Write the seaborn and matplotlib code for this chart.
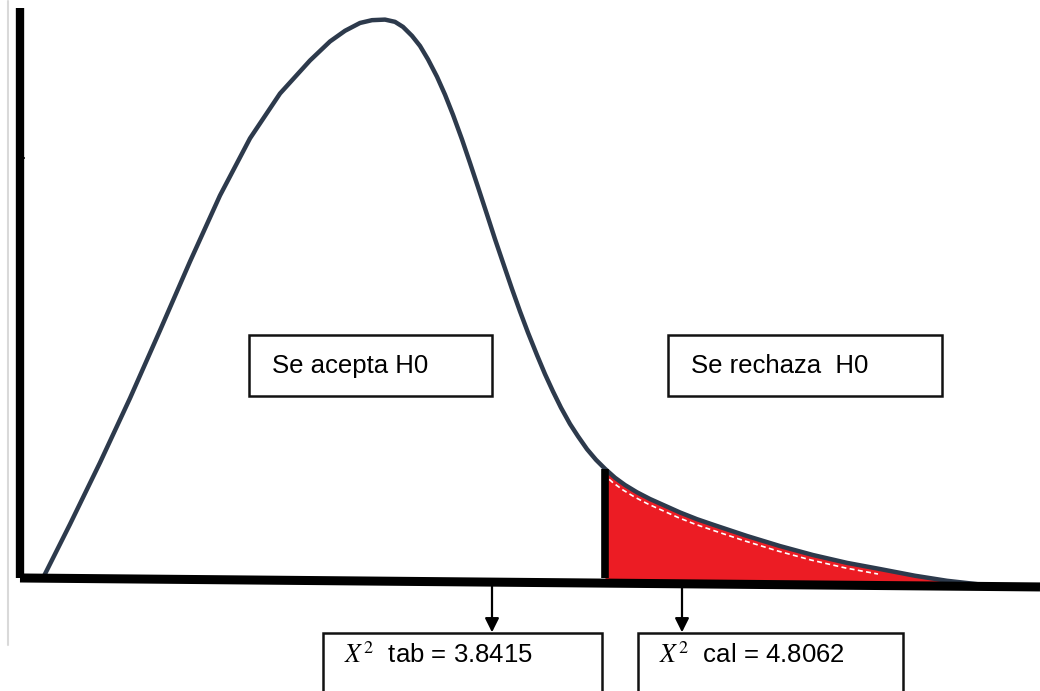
import matplotlib
matplotlib.use("Agg")
import matplotlib.pyplot as plt
import matplotlib.transforms as mtransforms
from matplotlib.patches import Rectangle
import seaborn as sns
import pandas as pd
import numpy as np

# ---- data (x: statistic scale, y: density scale) ----
curve_x = [0.00, 0.27, 0.57, 0.87, 1.17, 1.47, 1.77, 2.07, 2.37, 2.67, 2.87, 3.02,
           3.17, 3.29, 3.42, 3.52, 3.60, 3.69, 3.77, 3.85, 3.94, 4.02, 4.10, 4.19,
           4.27, 4.35, 4.44, 4.52, 4.60, 4.69, 4.77, 4.85, 4.94, 5.02, 5.10, 5.18,
           5.27, 5.35, 5.44, 5.53, 5.62, 5.72, 5.82, 5.94, 6.07, 6.22, 6.37, 6.54,
           6.72, 7.04, 7.37, 7.70, 8.04, 8.37, 8.72, 9.04, 9.44]
curve_y = [0.000, 0.096, 0.206, 0.321, 0.442, 0.565, 0.683, 0.785, 0.865, 0.924, 0.958, 0.977,
           0.991, 0.996, 0.997, 0.993, 0.984, 0.968, 0.950, 0.926, 0.895, 0.863, 0.827, 0.783,
           0.741, 0.698, 0.649, 0.605, 0.563, 0.516, 0.476, 0.438, 0.398, 0.364, 0.333, 0.304,
           0.275, 0.253, 0.230, 0.211, 0.195, 0.179, 0.166, 0.153, 0.141, 0.129, 0.117, 0.105,
           0.094, 0.075, 0.057, 0.041, 0.027, 0.016, 0.004, -0.005, -0.013]
critical_x = 5.62
axis_x = [-0.23, 9.97]
axis_y = [0.000, -0.016]
yaxis_top = 1.018
ytick_y = 0.75
tab_arrow_x = 4.49
cal_arrow_x = 6.39
labels_top = ["Se acepta H0", "Se rechaza  H0"]
labels_bottom = [r"$X^2$  tab = 3.8415", r"$X^2$  cal = 4.8062"]

df = pd.DataFrame({"x": curve_x, "y": curve_y})

sns.set_theme(style="white")
plt.rcParams["font.family"] = ["Liberation Sans", "DejaVu Sans"]
plt.rcParams["mathtext.fontset"] = "stix"

fig = plt.figure(figsize=(10.4, 6.91), dpi=100)
ax = fig.add_axes([0, 0, 1, 1])
ax.set_xlim(-0.43, 9.97)
ax.set_ylim(-0.2018, 1.032)
ax.axis("off")
fig.patch.set_facecolor("white")

# faint scan line on the far left
ax.plot([-0.35, -0.35], [1.03, -0.12], color="#d9d9d9", lw=1.5, zorder=1)

# red rejection region (between curve and the drawn axis line)
tail = df[df["x"] >= critical_x]
base = np.interp(tail["x"], axis_x, axis_y)
ax.fill_between(tail["x"], tail["y"], base, where=tail["y"].values >= base,
                interpolate=True, color="#ec1c24", lw=0, zorder=2)
# white dashed line inside red region, slightly below the curve
off = mtransforms.offset_copy(ax.transData, fig=fig, x=-2, y=-5, units="dots")
ax.plot(tail["x"].iloc[:-3], tail["y"].iloc[:-3], color="white", lw=1.2,
        ls=(0, (3, 2)), transform=off, zorder=3)

# density curve
sns.lineplot(data=df, x="x", y="y", ax=ax, color="#2d3a4c", lw=3.2, sort=False,
             zorder=4, solid_capstyle="round", solid_joinstyle="round")

# axes drawn as thick black lines
ax.plot([axis_x[0], axis_x[0]], [yaxis_top, axis_y[0]], color="black", lw=6,
        solid_capstyle="butt", zorder=5)
ax.plot(axis_x, axis_y, color="black", lw=6.5, solid_capstyle="butt", zorder=5)
ax.plot([axis_x[0] - 0.02, axis_x[0] + 0.04], [ytick_y, ytick_y], color="black", lw=1.5, zorder=5)

# critical value line
ax.plot([critical_x, critical_x], [0, tail["y"].iloc[0]], color="black", lw=5.5,
        solid_capstyle="butt", zorder=6)

# top label boxes
top_boxes = [(2.06, 4.49), (6.25, 8.99)]
for (x0, x1), lab in zip(top_boxes, labels_top):
    ax.add_patch(Rectangle((x0, 0.325), x1 - x0, 0.109, fill=True, facecolor="white",
                           edgecolor="#111111", lw=1.8, zorder=7))
    ax.text(x0 + 0.23, 0.379, lab, fontsize=18.5, va="center", ha="left",
            color="black", zorder=8)

# bottom value boxes with arrows
bottom_boxes = [(2.80, 5.59), (5.95, 8.60)]
for (x0, x1), lab, ax_x in zip(bottom_boxes, labels_bottom, [tab_arrow_x, cal_arrow_x]):
    ax.add_patch(Rectangle((x0, -0.30), x1 - x0, 0.202, fill=True, facecolor="white",
                           edgecolor="#111111", lw=1.8, zorder=7))
    ax.text(x0 + 0.21, -0.137, lab, fontsize=18.5, va="center", ha="left",
            color="black", zorder=8)
    ax.annotate("", xy=(ax_x, -0.097), xytext=(ax_x, -0.011),
                arrowprops=dict(arrowstyle="-|>,head_width=0.35,head_length=0.7",
                                color="black", lw=1.6, shrinkA=0, shrinkB=0),
                zorder=8)

fig.savefig("out.png", dpi=100, facecolor="white")
